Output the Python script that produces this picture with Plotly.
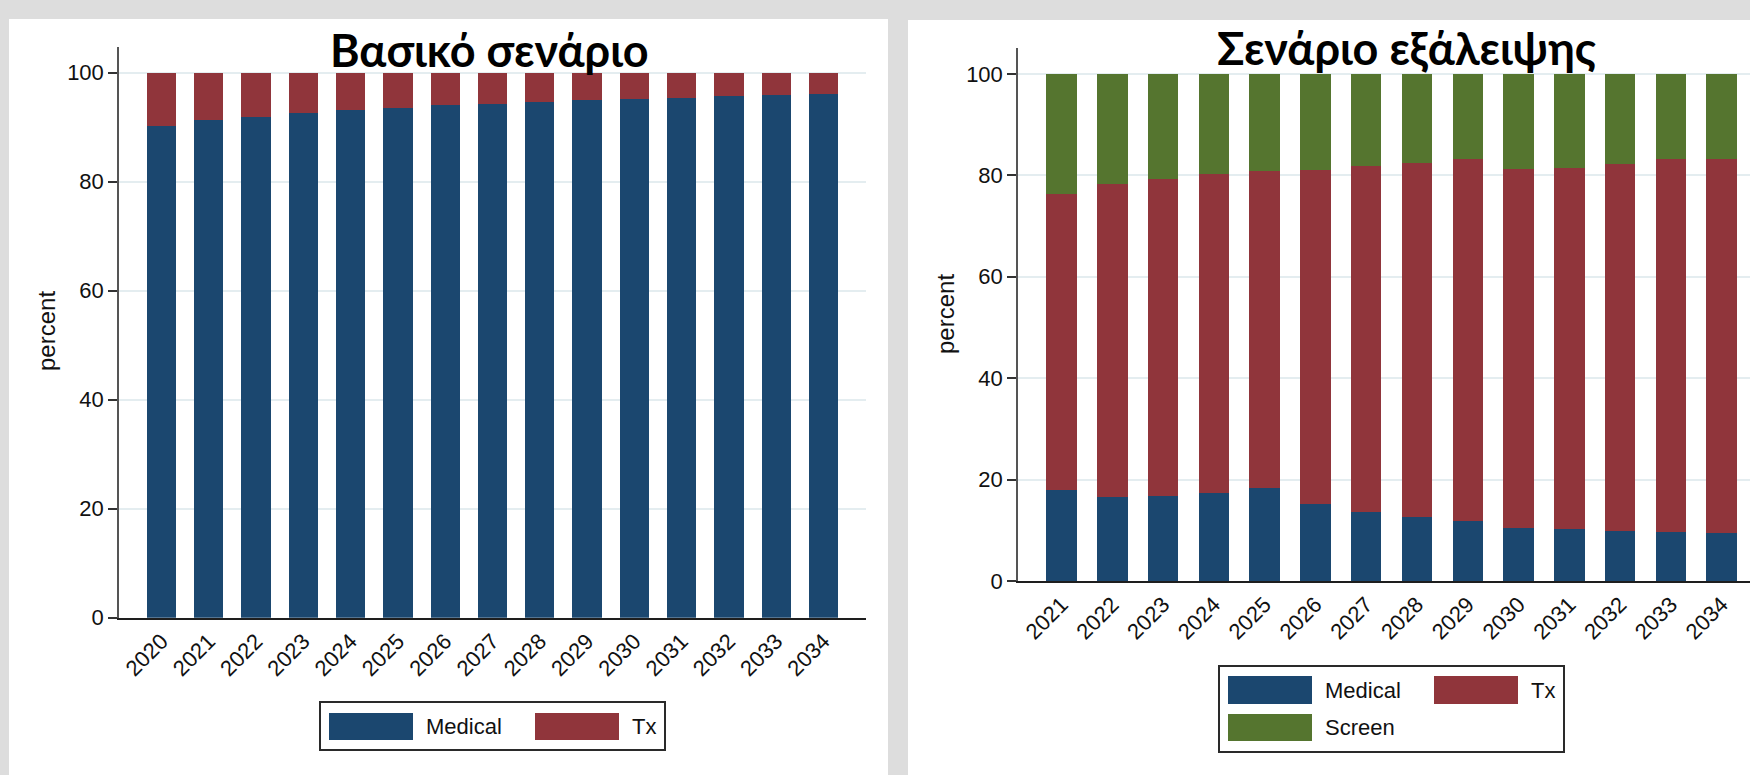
import plotly.graph_objects as go

W, H = 1750, 775

# ---------------- data ----------------
years_base = ["2020", "2021", "2022", "2023", "2024", "2025", "2026", "2027",
              "2028", "2029", "2030", "2031", "2032", "2033", "2034"]
base_medical = [90.2, 91.3, 91.9, 92.6, 93.2, 93.5, 94.1, 94.3, 94.7, 95.0, 95.2, 95.4, 95.7, 95.9, 96.1]
base_tx = [9.8, 8.7, 8.1, 7.4, 6.8, 6.5, 5.9, 5.7, 5.3, 5.0, 4.8, 4.6, 4.3, 4.1, 3.9]

years_elim = ["2021", "2022", "2023", "2024", "2025", "2026", "2027",
              "2028", "2029", "2030", "2031", "2032", "2033", "2034"]
elim_medical = [17.9, 16.5, 16.8, 17.3, 18.3, 15.2, 13.6, 12.6, 11.8, 10.5, 10.2, 9.8, 9.6, 9.5]
elim_tx = [58.4, 61.8, 62.4, 63.0, 62.5, 65.9, 68.3, 69.8, 71.4, 70.7, 71.3, 72.4, 73.6, 73.7]
elim_screen = [23.7, 21.7, 20.8, 19.7, 19.2, 18.9, 18.1, 17.6, 16.8, 18.8, 18.5, 17.8, 16.8, 16.8]

panel_titles = ["Βασικό σενάριο", "Σενάριο εξάλειψης"]
y_title = "percent"
y_ticks = [0, 20, 40, 60, 80, 100]
series_names = ["Medical", "Tx", "Screen"]

# ---------------- styles ----------------
COL = {"Medical": "#1b476f", "Tx": "#90353b", "Screen": "#55752f"}
SANS = "Liberation Sans, Arial, sans-serif"
TITLE_FONT = "Lato, Liberation Sans, sans-serif"
GRID = "#e4edf0"
BG = "#dddddd"


def fx(px):
    return px / W


def fy(py):
    return 1 - py / H


fig = go.Figure()

# left panel bars
for name, vals in [("Medical", base_medical), ("Tx", base_tx)]:
    fig.add_trace(go.Bar(x=years_base, y=vals, name=name, width=0.62,
                         marker=dict(color=COL[name], line=dict(width=0)),
                         xaxis="x", yaxis="y", showlegend=False))
# right panel bars
for name, vals in [("Medical", elim_medical), ("Tx", elim_tx), ("Screen", elim_screen)]:
    fig.add_trace(go.Bar(x=years_elim, y=vals, name=name, width=0.6,
                         marker=dict(color=COL[name], line=dict(width=0)),
                         xaxis="x2", yaxis="y2", showlegend=False))

xcommon = dict(type="category", showline=True, linecolor="#1e1e1e", linewidth=2,
               ticks="", tickangle=-45, showgrid=False, zeroline=False, automargin=False,
               tickfont=dict(family=SANS, size=22, color="#111111"), fixedrange=True)
ycommon = dict(showline=True, linecolor="#555555", linewidth=1.5, ticks="outside",
               ticklen=9, tickwidth=1.5, tickcolor="#333333", tickvals=y_ticks,
               showgrid=True, gridcolor=GRID, gridwidth=2, zeroline=False, automargin=False,
               tickfont=dict(family=SANS, size=22, color="#111111"), fixedrange=True)

fig.update_layout(
    width=W, height=H, autosize=False,
    margin=dict(l=0, r=0, t=0, b=0, pad=0, autoexpand=False),
    paper_bgcolor=BG, plot_bgcolor="white",
    barmode="stack", bargap=0, showlegend=False,
    xaxis=dict(domain=[fx(119), fx(866)], range=[-0.9, 14.9], anchor="y", **xcommon),
    yaxis=dict(domain=[fy(617.7), fy(47)], range=[0, 104.7], anchor="x", **ycommon),
    xaxis2=dict(domain=[fx(1018), 1.0], range=[-0.86, 13.56], anchor="y2", **xcommon),
    yaxis2=dict(domain=[fy(581), fy(48)], range=[0, 105.1], anchor="x2", **ycommon),
)

shapes = []
annotations = []

# white panels
shapes.append(dict(type="rect", xref="paper", yref="paper", x0=fx(9), x1=fx(888),
                   y0=-0.01, y1=fy(19), fillcolor="white", line=dict(width=0), layer="below"))
shapes.append(dict(type="rect", xref="paper", yref="paper", x0=fx(908), x1=1.01,
                   y0=-0.01, y1=fy(20), fillcolor="white", line=dict(width=0), layer="below"))

# titles
annotations.append(dict(text="<b>" + panel_titles[0] + "</b>", xref="paper", yref="paper",
                        x=fx(489), y=fy(50), xanchor="center", yanchor="middle", showarrow=False,
                        font=dict(family=TITLE_FONT, size=45, color="black")))
annotations.append(dict(text="<b>" + panel_titles[1] + "</b>", xref="paper", yref="paper",
                        x=fx(1406), y=fy(48), xanchor="center", yanchor="middle", showarrow=False,
                        font=dict(family=TITLE_FONT, size=45, color="black")))

# y titles
for xp, yp in [(46, 331), (945, 314)]:
    annotations.append(dict(text=y_title, xref="paper", yref="paper", x=fx(xp), y=fy(yp),
                            xanchor="center", yanchor="middle", showarrow=False, textangle=-90,
                            font=dict(family=SANS, size=24, color="#111111")))


def legend(box, items):
    bx0, by0, bx1, by1 = box
    shapes.append(dict(type="rect", xref="paper", yref="paper", x0=fx(bx0), x1=fx(bx1),
                       y0=fy(by1), y1=fy(by0), fillcolor="white",
                       line=dict(color="#2a2a2a", width=2)))
    for name, sx0, sy0, sx1, sy1, tx in items:
        shapes.append(dict(type="rect", xref="paper", yref="paper", x0=fx(sx0), x1=fx(sx1),
                           y0=fy(sy1), y1=fy(sy0), fillcolor=COL[name], line=dict(width=0)))
        annotations.append(dict(text=name, xref="paper", yref="paper", x=fx(tx - 2),
                                y=fy((sy0 + sy1) / 2), xanchor="left", yanchor="middle",
                                showarrow=False, font=dict(family=SANS, size=22, color="#111111")))


legend((320, 702, 665, 750), [
    (series_names[0], 329, 713, 413, 740, 426),
    (series_names[1], 535, 713, 619, 740, 632),
])
legend((1219, 666, 1564, 752), [
    (series_names[0], 1228, 676, 1312, 704, 1325),
    (series_names[1], 1434, 676, 1518, 704, 1531),
    (series_names[2], 1228, 714, 1312, 741, 1325),
])

fig.update_layout(shapes=shapes, annotations=annotations)
fig.write_html(
    "out.html",
    config={"displayModeBar": False, "responsive": False},
    post_script="document.body.style.margin='0';document.body.style.overflow='hidden';"
                "document.body.style.background='" + BG + "';",
)
